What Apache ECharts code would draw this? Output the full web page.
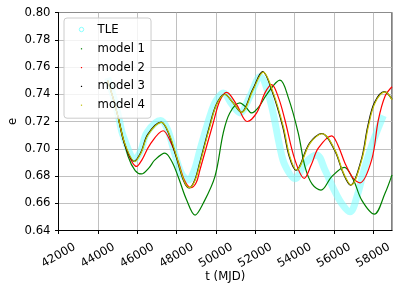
<!DOCTYPE html>
<html>
<head>
<meta charset="utf-8">
<script src="https://cdn.jsdelivr.net/npm/echarts@6/dist/echarts.min.js"></script>
<style>html,body{margin:0;padding:0;background:#fff;}#c{width:399px;height:291px;}</style>
</head>
<body>
<div id="c"></div>
<script>
// Data (t in MJD, e)
const xTicks = [42000, 44000, 46000, 48000, 50000, 52000, 54000, 56000, 58000];
const yTicks = [0.64, 0.66, 0.68, 0.70, 0.72, 0.74, 0.76, 0.78, 0.80];
const seriesNames = ['TLE', 'model 1', 'model 2', 'model 3', 'model 4'];

const tle = [[44500,0.752],[44800,0.738],[45050,0.724],[45300,0.709],[45900,0.6925],[46200,0.699],[46500,0.712],[47200,0.7208],[47550,0.714],[47900,0.697],[48250,0.682],[48600,0.677],[48900,0.684],[49190,0.699],[49700,0.724],[50000,0.735],[50380,0.741],[50800,0.733],[51226,0.7263],[51735,0.7385],[52244,0.7528],[52753,0.736],[53262,0.701],[53512,0.688],[54025,0.678],[54534,0.6894],[55130,0.6955],[55552,0.6844],[55975,0.671],[56392,0.660],[56824,0.6537],[57200,0.666],[57587,0.687],[58096,0.709],[58519,0.7243]];

const model1 = [[44500,0.750],[44800,0.736],[45050,0.722],[45542,0.6943],[45900,0.684],[46220,0.6815],[46600,0.686],[46901,0.6918],[47410,0.6968],[47750,0.691],[48087,0.6795],[48500,0.663],[48944,0.6513],[49361,0.660],[49954,0.6795],[50377,0.7115],[50712,0.7263],[51226,0.7336],[51500,0.731],[51822,0.7263],[52200,0.731],[52585,0.7398],[53262,0.7503],[53700,0.737],[54193,0.7115],[54534,0.6869],[54900,0.674],[55349,0.6697],[55893,0.6795],[56534,0.6864],[57000,0.677],[57420,0.6623],[58061,0.652],[58606,0.6673],[58960,0.6808]];

const model2 = [[44500,0.750],[44800,0.736],[45050,0.722],[45400,0.702],[45970,0.687],[46250,0.692],[46646,0.7029],[47320,0.7132],[47700,0.705],[48087,0.6906],[48400,0.677],[48720,0.6714],[49000,0.675],[49191,0.6844],[49868,0.7189],[50200,0.735],[50550,0.7414],[51058,0.7324],[51600,0.720],[52076,0.7263],[52499,0.741],[52840,0.7471],[53200,0.737],[53512,0.7213],[54025,0.6918],[54499,0.6783],[54850,0.688],[55212,0.7004],[55893,0.7095],[56200,0.703],[56570,0.6894],[57000,0.678],[57333,0.675],[57929,0.692],[58264,0.721],[58606,0.7385],[58960,0.7455]];

const model3 = [[44500,0.750],[44800,0.736],[45050,0.722],[45350,0.704],[45850,0.6908],[46180,0.697],[46540,0.7105],[47220,0.7195],[47580,0.712],[47980,0.6943],[48380,0.676],[48660,0.6712],[48930,0.677],[49170,0.689],[49680,0.7166],[50030,0.7326],[50440,0.740],[50870,0.7338],[51290,0.7268],[51880,0.7436],[52380,0.7566],[52890,0.741],[53400,0.7164],[53740,0.694],[54080,0.6842],[54760,0.704],[55390,0.7112],[56040,0.699],[56480,0.682],[56850,0.6732],[57400,0.692],[57730,0.7166],[58070,0.734],[58580,0.742],[58960,0.7362]];

const model4 = [[44500,0.750],[44800,0.736],[45050,0.722],[45370,0.704],[45880,0.6906],[46200,0.697],[46560,0.7103],[47240,0.7193],[47600,0.712],[48005,0.6943],[48400,0.676],[48680,0.6714],[48950,0.677],[49190,0.689],[49700,0.7164],[50041,0.7324],[50460,0.7398],[50885,0.7336],[51310,0.7267],[51903,0.7434],[52410,0.7562],[52920,0.741],[53430,0.7164],[53771,0.694],[54110,0.6844],[54789,0.704],[55415,0.711],[56061,0.699],[56500,0.682],[56875,0.6734],[57420,0.6918],[57756,0.7164],[58096,0.7336],[58606,0.7417],[58960,0.736]];

const colors = ['rgba(120,255,255,0.55)', '#008000', '#ff0000', '#000000', '#bfbf00'];
const FONT = 'DejaVu Sans';
const FS = 11.7;

const chart = echarts.init(document.getElementById('c'), null, {renderer: 'canvas'});
const dotIcon = 'path://M0,0L0,0M22,14L22,14M10.4,6.4L11.6,6.4L11.6,7.6L10.4,7.6Z';
const ringIcon = 'path://M0,0L0,0M22,14L22,14M13.2,7A2.2,2.2,0,1,1,8.8,7A2.2,2.2,0,1,1,13.2,7Z';

function lineSeries(name, data, color, width) {
  return {
    name: name, type: 'line', data: data, smooth: 0.35, showSymbol: false,
    lineStyle: {color: color, width: width}, itemStyle: {color: color},
    silent: true
  };
}

chart.setOption({
  animation: false,
  backgroundColor: '#fff',
  grid: {left: 58.5, right: 7, top: 12.5, bottom: 60.5, containLabel: false, outerBoundsMode: 'none',
    show: true, borderColor: '#000', borderWidth: 1, backgroundColor: 'transparent'},
  legend: {
    left: 64, top: 18, orient: 'vertical', z: 20,
    backgroundColor: 'rgba(255,255,255,0.8)', borderColor: '#cccccc', borderWidth: 1, borderRadius: 3,
    padding: [4, 6, 6, 6], itemWidth: 22, itemHeight: 14, itemGap: 4.8, itemTextGap: 5,
    textStyle: {fontFamily: FONT, fontSize: FS, color: '#000', lineHeight: 14},
    data: [
      {name: seriesNames[0], icon: ringIcon, itemStyle: {color: 'rgba(0,0,0,0)', borderColor: '#88ffff', borderWidth: 1}},
      {name: seriesNames[1], icon: dotIcon, itemStyle: {color: colors[1]}},
      {name: seriesNames[2], icon: dotIcon, itemStyle: {color: colors[2]}},
      {name: seriesNames[3], icon: dotIcon, itemStyle: {color: colors[3]}},
      {name: seriesNames[4], icon: dotIcon, itemStyle: {color: colors[4]}}
    ]
  },
  xAxis: {
    type: 'value', min: xTicks[0], max: 58960, interval: xTicks[1] - xTicks[0],
    name: 't (MJD)', nameLocation: 'middle', nameGap: 40, nameMoveOverlap: false,
    nameTextStyle: {fontFamily: FONT, fontSize: FS, color: '#000'},
    axisLine: {lineStyle: {color: '#000', width: 1}},
    axisTick: {inside: false, length: 3.5, lineStyle: {color: '#000', width: 1}},
    axisLabel: {rotate: 30, align: 'center', verticalAlign: 'middle', margin: 25, showMaxLabel: false,
      fontFamily: FONT, fontSize: FS, color: '#000', formatter: v => String(v)},
    splitLine: {show: true, lineStyle: {color: '#b0b0b0', width: 0.8}}
  },
  yAxis: {
    type: 'value', min: yTicks[0], max: yTicks[yTicks.length - 1], interval: 0.02,
    name: 'e', nameLocation: 'middle', nameGap: 40, nameRotate: 90, nameMoveOverlap: false,
    nameTextStyle: {fontFamily: FONT, fontSize: FS, color: '#000'},
    axisLine: {show: true, lineStyle: {color: '#000', width: 1}},
    axisTick: {show: true, inside: false, length: 3.5, lineStyle: {color: '#000', width: 1}},
    axisLabel: {margin: 8, fontFamily: FONT, fontSize: FS, color: '#000', formatter: v => v.toFixed(2)},
    splitLine: {show: true, lineStyle: {color: '#b0b0b0', width: 0.8}}
  },
  series: [
    lineSeries(seriesNames[0], tle, colors[0], 7),
    lineSeries(seriesNames[1], model1, colors[1], 1.2),
    lineSeries(seriesNames[2], model2, colors[2], 1.2),
    lineSeries(seriesNames[3], model3, colors[3], 1.2),
    lineSeries(seriesNames[4], model4, colors[4], 1.2)
  ]
});
</script>
</body>
</html>
